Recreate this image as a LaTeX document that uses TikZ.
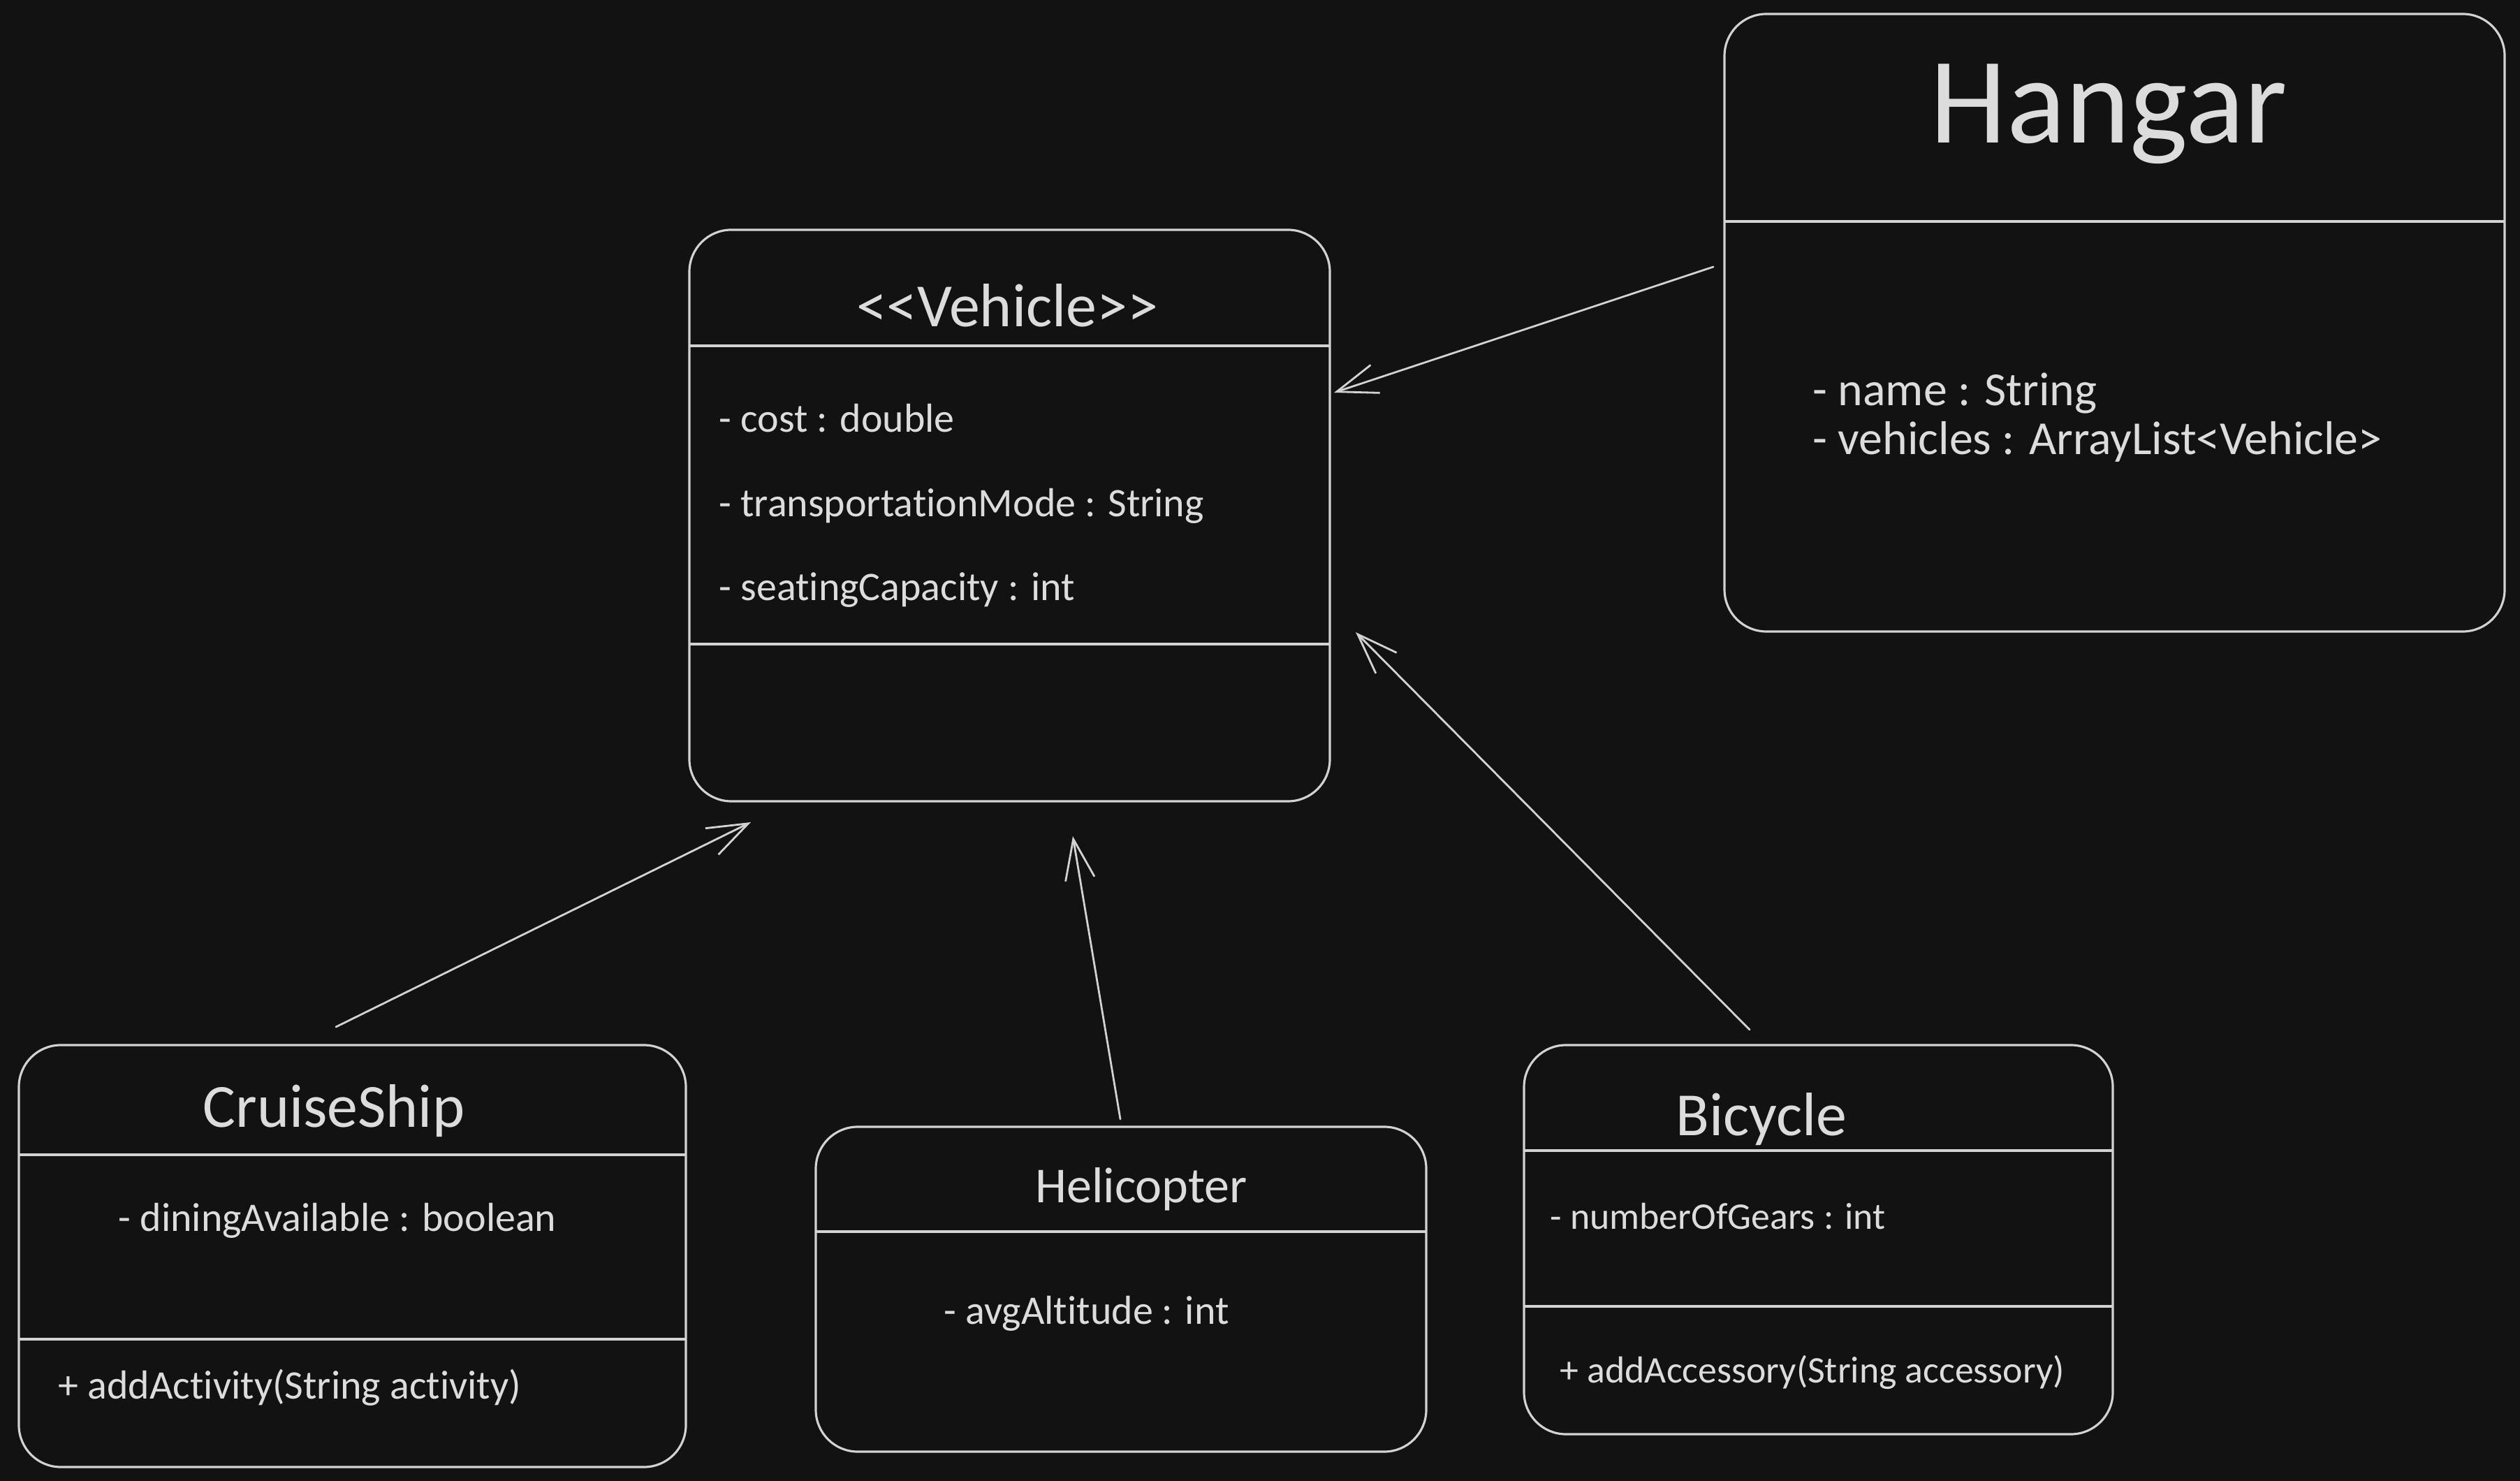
\documentclass[tikz,border=0pt]{standalone}
\usepackage{fontspec}
\setmainfont{Carlito}[Ligatures = NoCommon]
\usepackage{tikz}
\usetikzlibrary{arrows.meta}

\definecolor{board}{HTML}{121212}
\definecolor{chalk}{HTML}{D2D2D2}
\definecolor{chalktext}{HTML}{DCDCDC}

\tikzset{
    classbox/.style = {draw = chalk, line width = 0.9pt, rounded corners = 0.6cm, rectangle, inner sep = 0pt, outer sep = 0pt},
    compline/.style = {draw = chalk, line width = 0.9pt},
    inherit/.style = {draw = chalk, line width = 0.8pt, line cap = round, -{Straight Barb[length = 5.8mm, width = 4.2mm]}},
    classname/.style = {text = chalktext, anchor = base, inner sep = 0pt, font = \fontsize{25}{30}\selectfont},
    smallname/.style = {classname, font = \fontsize{20.5}{25}\selectfont},
    bigname/.style = {classname, font = \fontsize{50}{60}\selectfont},
    member/.style = {text = chalktext, anchor = base west, inner sep = 0pt, font = \fontsize{16.5}{20}\selectfont},
    smallmember/.style = {member, font = \fontsize{15.3}{19}\selectfont},
    bigmember/.style = {member, font = \fontsize{19.3}{23}\selectfont}
}

\begin{document}
\begin{tikzpicture}
    \useasboundingbox (0,0) rectangle (36.08,-21.20);
    \fill [board] (0,0) rectangle (36.08,-21.20);

    \node [classbox, minimum width = 9.17cm, minimum height = 8.18cm] (vehicle) at (14.455,-7.38) {};
    \node [classbox, minimum width = 11.17cm, minimum height = 8.84cm] (hangar) at (30.275,-4.62) {};
    \node [classbox, minimum width = 9.55cm, minimum height = 6.04cm] (cruiseship) at (5.045,-17.98) {};
    \node [classbox, minimum width = 8.74cm, minimum height = 4.65cm] (helicopter) at (16.05,-18.455) {};
    \node [classbox, minimum width = 8.43cm, minimum height = 5.57cm] (bicycle) at (26.035,-17.745) {};

    \draw [compline] ([yshift = -1.66cm] vehicle.north west) -- ([yshift = -1.66cm] vehicle.north east);
    \draw [compline] ([yshift = -5.93cm] vehicle.north west) -- ([yshift = -5.93cm] vehicle.north east);
    \draw [compline] ([yshift = -2.97cm] hangar.north west) -- ([yshift = -2.97cm] hangar.north east);
    \draw [compline] ([yshift = -1.57cm] cruiseship.north west) -- ([yshift = -1.57cm] cruiseship.north east);
    \draw [compline] ([yshift = -4.21cm] cruiseship.north west) -- ([yshift = -4.21cm] cruiseship.north east);
    \draw [compline] ([yshift = -1.50cm] helicopter.north west) -- ([yshift = -1.50cm] helicopter.north east);
    \draw [compline] ([yshift = -1.51cm] bicycle.north west) -- ([yshift = -1.51cm] bicycle.north east);
    \draw [compline] ([yshift = -3.74cm] bicycle.north west) -- ([yshift = -3.74cm] bicycle.north east);

    \node [classname] (vehicleName) at (14.42,-4.68) {{<}{<}Vehicle{>}{>}};
    \node [member] (vehicleCost) at (10.29,-6.19) {- cost : double};
    \node [member] (vehicleMode) at (10.29,-7.40) {- transportationMode : String};
    \node [member] (vehicleSeats) at (10.29,-8.60) {- seatingCapacity : int};

    \node [bigname] (hangarName) at (30.19,-2.05) {Hangar};
    \node [bigmember] (hangarTitle) at (25.95,-5.81) {- name : String};
    \node [bigmember] (hangarList) at (25.95,-6.51) {- vehicles : ArrayList<Vehicle>};

    \node [classname] (cruiseName) at (4.78,-16.13) {CruiseShip};
    \node [member] (cruiseDining) at (1.69,-17.62) {- diningAvailable : boolean};
    \node [member] (cruiseAdd) at (0.83,-20.02) {+ addActivity(String activity)};

    \node [smallname] (heliName) at (16.34,-17.21) {Helicopter};
    \node [member] (heliAlt) at (13.51,-18.95) {- avgAltitude : int};

    \node [classname] (bikeName) at (25.22,-16.25) {Bicycle};
    \node [smallmember] (bikeGears) at (22.19,-17.59) {- numberOfGears : int};
    \node [smallmember] (bikeAdd) at (22.33,-19.79) {+ addAccessory(String accessory)};

    \coordinate (hangarOut) at (24.53,-3.82);
    \coordinate (hangarTip) at (19.10,-5.62);
    \coordinate (cruiseOut) at (4.81,-14.70);
    \coordinate (cruiseTip) at (10.75,-11.77);
    \coordinate (heliOut) at (16.04,-16.02);
    \coordinate (heliTip) at (15.36,-11.97);
    \coordinate (bikeOut) at (25.05,-14.74);
    \coordinate (bikeTip) at (19.41,-9.05);

    \draw [inherit] (hangarOut) -- (hangarTip);
    \draw [inherit] (cruiseOut) -- (cruiseTip);
    \draw [inherit] (heliOut) -- (heliTip);
    \draw [inherit] (bikeOut) -- (bikeTip);
\end{tikzpicture}
\end{document}
